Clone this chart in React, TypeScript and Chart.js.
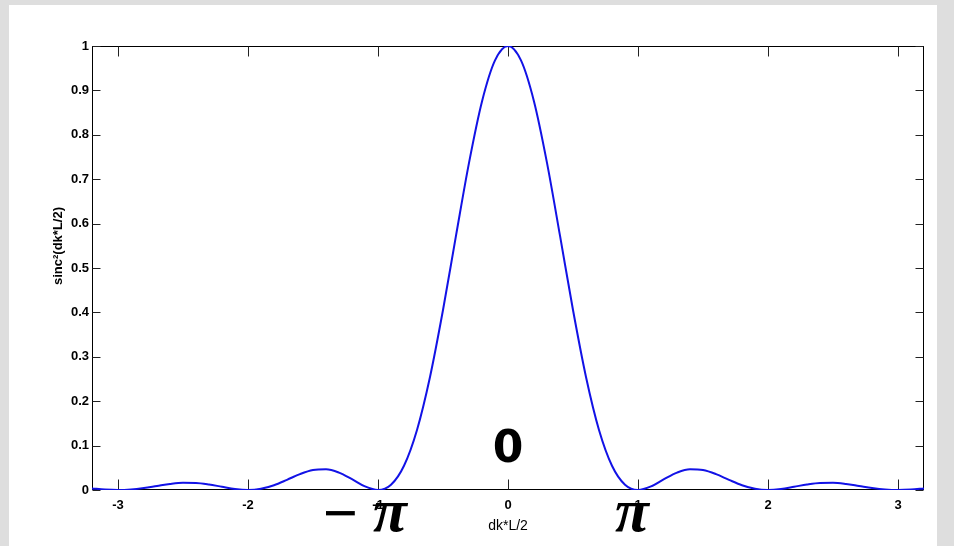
import { useEffect, useRef } from 'react';
import { Chart, registerables } from 'chart.js';

Chart.register(...registerables);

// Sampled diffraction envelope, x in units of pi
const xValues = [
  -3.2, -3.1, -3.0, -2.9, -2.8, -2.7, -2.6, -2.5, -2.4, -2.3, -2.2, -2.1, -2.0,
  -1.9, -1.8, -1.7, -1.6, -1.5, -1.4, -1.3, -1.2, -1.1, -1.0,
  -0.9, -0.8, -0.7, -0.6, -0.5, -0.4, -0.3, -0.2, -0.1, 0.0,
  0.1, 0.2, 0.3, 0.4, 0.5, 0.6, 0.7, 0.8, 0.9, 1.0,
  1.1, 1.2, 1.3, 1.4, 1.5, 1.6, 1.7, 1.8, 1.9, 2.0,
  2.1, 2.2, 2.3, 2.4, 2.5, 2.6, 2.7, 2.8, 2.9, 3.0, 3.1, 3.2,
];

const intensity = [
  0.0034, 0.0010, 0.0, 0.0012, 0.0045, 0.0091, 0.0136, 0.0162, 0.0159, 0.0125, 0.0072, 0.0022, 0.0,
  0.0027, 0.0108, 0.0229, 0.0358, 0.0450, 0.0468, 0.0392, 0.0243, 0.0080, 0.0,
  0.0119, 0.0547, 0.1353, 0.2546, 0.4053, 0.5728, 0.7368, 0.8751, 0.9675, 1.0,
  0.9675, 0.8751, 0.7368, 0.5728, 0.4053, 0.2546, 0.1353, 0.0547, 0.0119, 0.0,
  0.0080, 0.0243, 0.0392, 0.0468, 0.0450, 0.0358, 0.0229, 0.0108, 0.0027, 0.0,
  0.0022, 0.0072, 0.0125, 0.0159, 0.0162, 0.0136, 0.0091, 0.0045, 0.0012, 0.0, 0.0010, 0.0034,
];

const xTicks = [-3, -2, -1, 0, 1, 2, 3];
const yTicks = [0, 0.1, 0.2, 0.3, 0.4, 0.5, 0.6, 0.7, 0.8, 0.9, 1];

const xTitle = 'dk*L/2';
const yTitle = 'sinc\u00B2(dk*L/2)';

// Hand-written markers over the axis: the centre and the first zeros
const centreLabel = { text: '0', x: 0, y: 0.088 };
const minusSign = { text: '\u2212', x: -1.29 };
const piMarks = [
  { text: '\u03C0', x: -0.908 },
  { text: '\u03C0', x: 0.954 },
];

const SANS = '"Liberation Sans", Arial, sans-serif';
const SERIF = '"Liberation Serif", "Times New Roman", serif';

const framePlugin = {
  id: 'matlabFrame',
  beforeDatasetsDraw(chart: any) {
    const { ctx, chartArea, scales } = chart;
    const { left, right, top, bottom } = chartArea;
    const xs = scales.x;
    const ys = scales.y;
    const l = Math.round(left) + 0.5;
    const r = Math.round(right) - 0.5;
    const t = Math.round(top) + 0.5;
    const b = Math.round(bottom) - 0.5;
    ctx.save();
    ctx.strokeStyle = '#000';
    ctx.lineWidth = 1;
    ctx.strokeRect(l, t, r - l, b - t);
    ctx.strokeStyle = '#222';
    ctx.beginPath();
    for (const v of xTicks) {
      const px = Math.round(xs.getPixelForValue(v)) + 0.5;
      ctx.moveTo(px, b);
      ctx.lineTo(px, b - 10);
      ctx.moveTo(px, t);
      ctx.lineTo(px, t + 10);
    }
    for (const v of yTicks) {
      const py = Math.round(ys.getPixelForValue(v)) + 0.5;
      ctx.moveTo(l, py);
      ctx.lineTo(l + 8, py);
      ctx.moveTo(r, py);
      ctx.lineTo(r - 8, py);
    }
    ctx.stroke();
    ctx.restore();
  },
  afterDraw(chart: any) {
    const { ctx, chartArea, scales } = chart;
    const xs = scales.x;
    const ys = scales.y;
    ctx.save();
    ctx.fillStyle = '#000';

    // axis titles
    ctx.textAlign = 'center';
    ctx.textBaseline = 'middle';
    ctx.font = `14px ${SANS}`;
    ctx.fillText(xTitle, xs.getPixelForValue(0), chartArea.bottom + 36);

    ctx.save();
    ctx.translate(49, (chartArea.top + chartArea.bottom) / 2 - 22);
    ctx.rotate(-Math.PI / 2);
    ctx.font = `bold 13px ${SANS}`;
    ctx.fillText(yTitle, 0, 0);
    ctx.restore();

    // large centre label
    ctx.font = `bold 44px "DejaVu Sans", ${SANS}`;
    ctx.fillText(centreLabel.text, xs.getPixelForValue(centreLabel.x), ys.getPixelForValue(centreLabel.y));

    // -pi and pi under the first zeros
    ctx.textBaseline = 'middle';
    ctx.font = `bold 62px ${SERIF}`;
    ctx.fillText(minusSign.text, xs.getPixelForValue(minusSign.x), chartArea.bottom + 28);
    ctx.textBaseline = 'alphabetic';
    ctx.font = `italic bold 62px ${SERIF}`;
    for (const m of piMarks) {
      ctx.fillText(m.text, xs.getPixelForValue(m.x), chartArea.bottom + 41);
    }
    ctx.restore();
  },
};

export default function App() {
  const canvasRef = useRef<HTMLCanvasElement>(null);

  useEffect(() => {
    if (!canvasRef.current) return;
    Chart.defaults.font.family = SANS;
    const tickFont = { size: 13, weight: 'bold' as const };
    const chart = new Chart(canvasRef.current, {
      type: 'line',
      data: {
        datasets: [
          {
            data: xValues.map((x, i) => ({ x, y: intensity[i] })),
            borderColor: 'rgb(18, 18, 230)',
            borderWidth: 2,
            pointRadius: 0,
            fill: false,
            cubicInterpolationMode: 'monotone',
          },
        ],
      },
      options: {
        responsive: false,
        animation: false,
        layout: { padding: { left: 0, top: 41, right: 13, bottom: 0 } },
        plugins: {
          legend: { display: false },
          tooltip: { enabled: false },
        },
        scales: {
          x: {
            type: 'linear',
            min: -3.2,
            max: 3.2,
            grid: { display: false, drawTicks: false },
            border: { display: false },
            afterBuildTicks: (s: any) => {
              s.ticks = xTicks.map((value) => ({ value }));
            },
            afterFit: (s: any) => {
              s.height = 56;
            },
            ticks: {
              padding: 8,
              color: '#000',
              font: tickFont,
              maxRotation: 0,
              autoSkip: false,
              callback: (v: any) => String(v),
            },
          },
          y: {
            type: 'linear',
            min: 0,
            max: 1,
            grid: { display: false, drawTicks: false },
            border: { display: false },
            afterBuildTicks: (s: any) => {
              s.ticks = yTicks.map((value) => ({ value }));
            },
            afterFit: (s: any) => {
              s.width = 83;
            },
            ticks: {
              padding: 3,
              color: '#000',
              font: tickFont,
              autoSkip: false,
              callback: (v: any) => String(v),
            },
          },
        },
      },
      plugins: [framePlugin],
    });
    return () => chart.destroy();
  }, []);

  return (
    <div style={{ position: 'fixed', left: 0, top: 0, width: 954, height: 546, background: '#dedede' }}>
      <div style={{ position: 'absolute', left: 9, top: 5, width: 928, height: 541, background: '#ffffff' }}>
        <canvas ref={canvasRef} width={928} height={541} style={{ display: 'block', width: 928, height: 541 }} />
      </div>
    </div>
  );
}
